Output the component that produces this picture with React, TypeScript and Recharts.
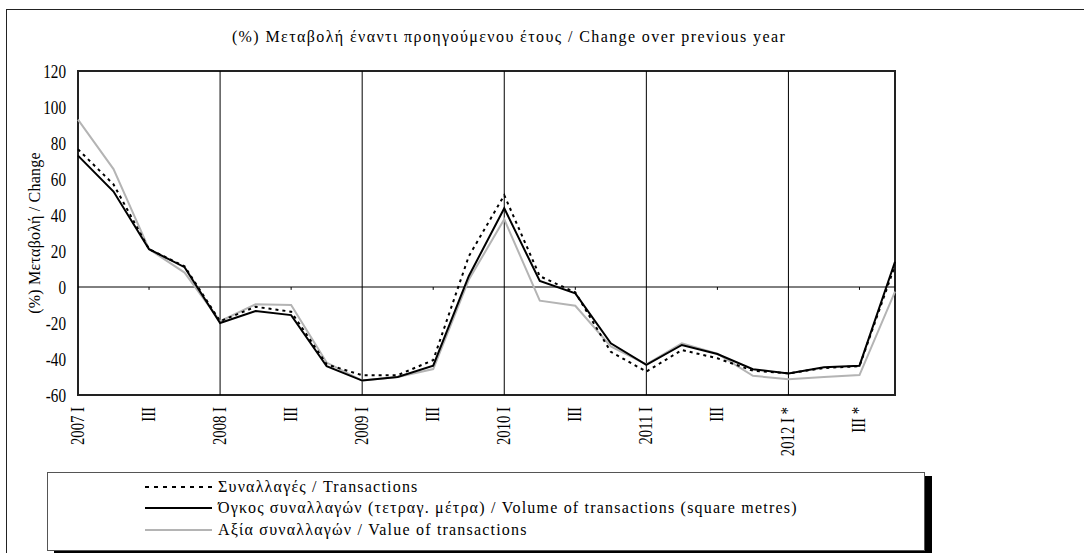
import { LineChart, Line, XAxis, YAxis, ReferenceLine, ReferenceArea } from 'recharts'

const FONT = '"Liberation Serif", "Times New Roman", serif'

const quarters = [
  '2007 I', '2007 II', '2007 III', '2007 IV',
  '2008 I', '2008 II', '2008 III', '2008 IV',
  '2009 I', '2009 II', '2009 III', '2009 IV',
  '2010 I', '2010 II', '2010 III', '2010 IV',
  '2011 I', '2011 II', '2011 III', '2011 IV',
  '2012 I', '2012 II', '2012 III', '2012 IV',
]

const tickLabels = [
  '2007 I', '', 'III', '',
  '2008 I', '', 'III', '',
  '2009 I', '', 'III', '',
  '2010 I', '', 'III', '',
  '2011 I', '', 'III', '',
  '2012 I *', '', 'III *', '',
]

const transactions = [76.5, 57, 21, 11.5, -19, -11, -13.7, -43, -49, -49, -40.6, 17, 51, 6, -3, -36, -47, -35, -39.6, -46.5, -48, -45, -44, 12]
const volume = [73, 53, 21, 11, -20, -13.3, -15.6, -44, -52, -50, -43.7, 6, 43.7, 3.3, -3.5, -31.3, -43.3, -32.2, -37.2, -45.7, -48, -44.6, -43.7, 14]
const value = [93, 65.5, 21, 8, -19, -9.6, -10, -42, -52, -50, -45.6, 4, 37.6, -7.6, -10.4, -33, -43, -31.3, -37, -49.3, -51.3, -50, -48.9, -2.6]

const yTicks = [-60, -40, -20, 0, 20, 40, 60, 80, 100, 120]

const series = [
  { key: 'value', name: 'Αξία συναλλαγών / Value of transactions', stroke: '#b4b4b4', dash: undefined, width: 2 },
  { key: 'volume', name: 'Όγκος συναλλαγών (τετραγ. μέτρα) / Volume of transactions (square metres)', stroke: '#000', dash: undefined, width: 2 },
  { key: 'transactions', name: 'Συναλλαγές / Transactions', stroke: '#000', dash: '3 4', width: 2 },
]
const legendOrder = ['transactions', 'volume', 'value']

const data = quarters.map((q, i) => ({
  q,
  transactions: transactions[i],
  volume: volume[i],
  value: value[i],
}))

const yearStarts = quarters.filter((q, i) => i > 0 && q.endsWith(' I'))
const midYear = quarters.filter((q) => q.endsWith(' III'))

// tick text in the original is a tall, narrow serif: draw a bigger size squeezed along the text direction
function XTick({ x, y, index }: any) {
  const text = tickLabels[index]
  if (!text) return null
  return (
    <text
      transform={`translate(${x}, ${y}) rotate(-90) scale(0.82, 1)`}
      textAnchor="end"
      dy="0.33em"
      fontSize={18}
      fontFamily={FONT}
      fill="#000"
    >
      {text}
    </text>
  )
}

function YTick({ x, y, payload }: any) {
  return (
    <text
      transform={`translate(${x}, ${y}) scale(0.8, 1)`}
      textAnchor="end"
      dy="0.35em"
      fontSize={19}
      fontFamily={FONT}
      fill="#000"
    >
      {payload.value}
    </text>
  )
}

export default function App() {
  return (
    <div style={{ position: 'absolute', left: 0, top: 0, width: 1084, height: 553, overflow: 'hidden', background: '#fff', fontFamily: FONT }}>
      <div style={{ position: 'absolute', left: 6, top: 9, width: 1100, height: 600, border: '1px solid #222' }} />
      <div style={{ position: 'absolute', left: 509, top: 28, transform: 'translateX(-50%)', whiteSpace: 'nowrap', fontSize: 16, letterSpacing: 1.4 }}>
        (%) Μεταβολή έναντι προηγούμενου έτους / Change over previous year
      </div>
      <div style={{ position: 'absolute', left: 35, top: 233, transform: 'translate(-50%, -50%) rotate(-90deg)', whiteSpace: 'nowrap', fontSize: 16, letterSpacing: 0.2 }}>
        (%) Μεταβολή / Change
      </div>
      <div style={{ position: 'absolute', left: 0, top: 0 }}>
        <LineChart width={1084} height={553} data={data} margin={{ top: 71, right: 189, bottom: 98, left: 18 }}>
          <XAxis dataKey="q" interval={0} tick={<XTick />} tickLine={false} axisLine={false} height={60} tickMargin={6} />
          <YAxis
            type="number"
            domain={[-60, 120]}
            ticks={yTicks}
            interval={0}
            width={60}
            axisLine={false}
            tickLine={false}
            tickMargin={6}
            tick={<YTick />}
          />
          {yearStarts.map((q) => (
            <ReferenceLine key={q} x={q} stroke="#000" strokeWidth={1} />
          ))}
          <ReferenceLine y={0} stroke="#000" strokeWidth={1} />
          {midYear.map((q) => (
            <ReferenceLine key={q} segment={[{ x: q, y: 0 }, { x: q, y: -1.6 }]} stroke="#000" strokeWidth={1} />
          ))}
          {series.map((s) => (
            <Line
              key={s.key}
              dataKey={s.key}
              name={s.name}
              stroke={s.stroke}
              strokeWidth={s.width}
              strokeDasharray={s.dash}
              dot={false}
              activeDot={false}
              isAnimationActive={false}
            />
          ))}
          <ReferenceArea x1={quarters[0]} x2={quarters[quarters.length - 1]} y1={-60} y2={120} fill="none" stroke="#222" strokeWidth={2} />
        </LineChart>
      </div>
      <div style={{ position: 'absolute', left: 47, top: 472, width: 876, height: 77, border: '1px solid #555', boxShadow: '7px 4px 0 #000', background: '#fff' }}>
        {legendOrder.map((k, i) => {
          const s = series.find((d) => d.key === k)!
          return (
            <div key={k} style={{ position: 'absolute', left: 97, top: 3 + i * 21.5, height: 21, display: 'flex', alignItems: 'center', fontSize: 16, letterSpacing: 1.2, whiteSpace: 'nowrap' }}>
              <svg width={67} height={6} style={{ marginRight: 6 }}>
                <line x1={0} y1={3} x2={67} y2={3} stroke={s.stroke} strokeWidth={2} strokeDasharray={s.dash ? '4 5' : undefined} />
              </svg>
              <span>{s.name}</span>
            </div>
          )
        })}
      </div>
    </div>
  )
}
